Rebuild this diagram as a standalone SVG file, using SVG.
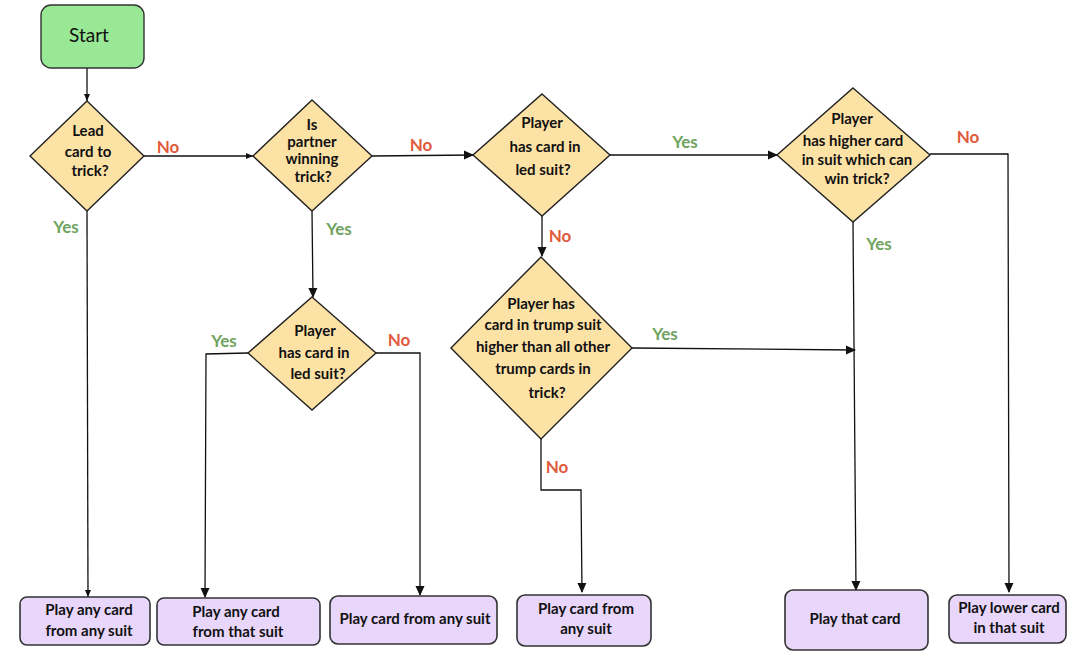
<svg xmlns="http://www.w3.org/2000/svg" width="1077" height="662" viewBox="0 0 1077 662">
<style>
.dia{fill:#FDE2A6;stroke:#222;stroke-width:1.4}
.box{fill:#E8D6FB;stroke:#333;stroke-width:1.6}
.start{fill:#98E896;stroke:#333;stroke-width:1.4}
.t{font-family:Lato,"Open Sans",sans-serif;font-weight:bold;font-size:15px;fill:#111;text-anchor:middle}
.c{fill:none;stroke:#111;stroke-width:1.3}
.no{font-family:Lato,"Open Sans",sans-serif;font-weight:bold;font-size:17px;fill:#E05A3C;text-anchor:middle}
.yes{font-family:Lato,"Open Sans",sans-serif;font-weight:bold;font-size:17px;fill:#6FA35E;text-anchor:middle}
</style>
<defs>
<marker id="ah" markerWidth="10" markerHeight="10" refX="9" refY="5" orient="auto" markerUnits="userSpaceOnUse">
<path d="M0,0.5 L10,5 L0,9.5 Z" fill="#111"/>
</marker>
<marker id="as" markerWidth="7" markerHeight="7" refX="7" refY="3.5" orient="auto" markerUnits="userSpaceOnUse">
<path d="M0,0.5 L7,3.5 L0,6.5 Z" fill="#111"/>
</marker>
</defs>
<rect width="1077" height="662" fill="#fff"/>

<g id="connectors">
<path class="c" d="M87,68 L87,101" marker-end="url(#as)"/>
<path class="c" d="M144,156 L253,156" marker-end="url(#as)"/>
<path class="c" d="M372,156 L473,155" marker-end="url(#ah)"/>
<path class="c" d="M610,155 L777,155" marker-end="url(#ah)"/>
<path class="c" d="M930,154 L1008,154 L1009,592" marker-end="url(#ah)"/>
<path class="c" d="M853,222 L856,590" marker-end="url(#ah)"/>
<path class="c" d="M542,216 L542,256" marker-end="url(#ah)"/>
<path class="c" d="M632,348 L855,350" marker-end="url(#ah)"/>
<path class="c" d="M541,439 L541,490 L581,490 L582,592" marker-end="url(#ah)"/>
<path class="c" d="M312,211 L313,297" marker-end="url(#ah)"/>
<path class="c" d="M248,353 L206,354 L205,597" marker-end="url(#ah)"/>
<path class="c" d="M376,353 L420,353 L420,595" marker-end="url(#ah)"/>
<path class="c" d="M87,211 L88,597" marker-end="url(#as)"/>
<text class="no" x="168" y="153">No</text>
<text class="yes" x="66" y="233">Yes</text>
<text class="no" x="421" y="151">No</text>
<text class="yes" x="339" y="235">Yes</text>
<text class="yes" x="685" y="148">Yes</text>
<text class="no" x="560" y="242">No</text>
<text class="no" x="968" y="143">No</text>
<text class="yes" x="879" y="250">Yes</text>
<text class="yes" x="665" y="340">Yes</text>
<text class="no" x="557" y="473">No</text>
<text class="yes" x="224" y="347">Yes</text>
<text class="no" x="399" y="346">No</text>
</g>

<g id="start">
<rect class="start" x="41" y="5" width="103" height="63" rx="10"/>
<text x="89" y="42" style="font-family:Lato,'Open Sans',sans-serif;font-size:19px;fill:#111;text-anchor:middle">Start</text>
</g>

<g id="d-lead">
<polygon class="dia" points="87,101 144,156 87,211 30,156"/>
<text class="t" x="88" y="136">Lead</text>
<text class="t" x="88" y="157">card to</text>
<text class="t" x="90" y="176">trick?</text>
</g>

<g id="d-partner">
<polygon class="dia" points="312,100 372,156 312,211 253,156"/>
<text class="t" x="312" y="130">Is</text>
<text class="t" x="312" y="147">partner</text>
<text class="t" x="312" y="164">winning</text>
<text class="t" x="313" y="182">trick?</text>
</g>

<g id="d-led">
<polygon class="dia" points="542,94 610,155 542,216 473,155"/>
<text class="t" x="542" y="128">Player</text>
<text class="t" x="545" y="152">has card in</text>
<text class="t" x="543" y="175">led suit?</text>
</g>

<g id="d-higher">
<polygon class="dia" points="853,88 930,155 853,222 777,155"/>
<text class="t" x="852" y="124">Player</text>
<text class="t" x="853" y="146">has higher card</text>
<text class="t" x="857" y="165">in suit which can</text>
<text class="t" x="857" y="184">win trick?</text>
</g>

<g id="d-trump">
<polygon class="dia" points="541,257 632,348 541,439 451,348"/>
<text class="t" x="541" y="309">Player has</text>
<text class="t" x="543" y="330">card in trump suit</text>
<text class="t" x="543" y="352">higher than all other</text>
<text class="t" x="543" y="374">trump cards in</text>
<text class="t" x="547" y="398">trick?</text>
</g>

<g id="d-led2">
<polygon class="dia" points="312,297 376,353 312,410 248,353"/>
<text class="t" x="315" y="336">Player</text>
<text class="t" x="314" y="358">has card in</text>
<text class="t" x="318" y="379">led suit?</text>
</g>

<g id="b-any">
<rect class="box" x="20" y="597" width="130" height="48" rx="7"/>
<text class="t" x="89" y="615">Play any card</text>
<text class="t" x="89" y="636">from any suit</text>
</g>
<g id="b-that">
<rect class="box" x="157" y="598" width="163" height="47" rx="7"/>
<text class="t" x="236" y="617">Play any card</text>
<text class="t" x="238" y="637">from that suit</text>
</g>
<g id="b-anysuit">
<rect class="box" x="330" y="596" width="167" height="48" rx="8"/>
<text class="t" x="415" y="624">Play card from any suit</text>
</g>
<g id="b-from">
<rect class="box" x="517" y="595" width="134" height="51" rx="8"/>
<text class="t" x="586" y="614">Play card from</text>
<text class="t" x="586" y="634">any suit</text>
</g>
<g id="b-play">
<rect class="box" x="785" y="590" width="143" height="60" rx="8"/>
<text class="t" x="855" y="624">Play that card</text>
</g>
<g id="b-lower">
<rect class="box" x="949" y="595" width="117" height="48" rx="8"/>
<text class="t" x="1009" y="613">Play lower card</text>
<text class="t" x="1009" y="633">in that suit</text>
</g>
</svg>
